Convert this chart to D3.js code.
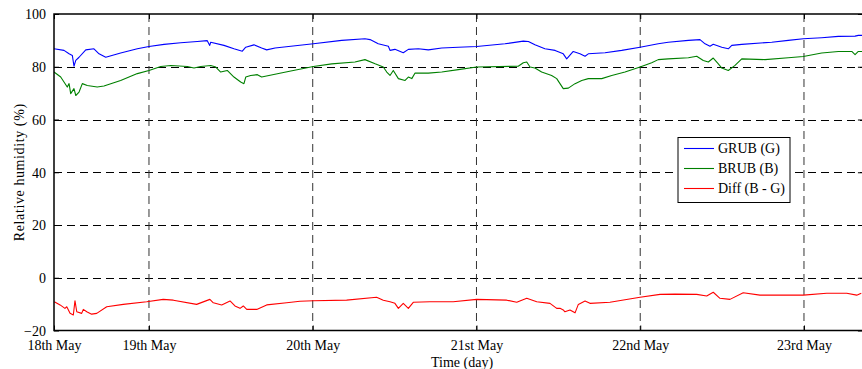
<!DOCTYPE html>
<html>
<head>
<meta charset="utf-8">
<script src="https://cdn.jsdelivr.net/npm/d3@7"></script>
<style>
  html, body { margin: 0; padding: 0; background: #fff; }
  svg { display: block; }
  text { font-family: "Liberation Serif", "Times New Roman", serif; fill: #000; }
</style>
</head>
<body>
<svg id="chart" width="862" height="369"></svg>
<script>
// ---- data (time in day-of-May, RH in %) ----
const xDomain = [18.42, 23.36];
const xTickValues = [18.42, 19, 20, 21, 22, 23];
const xTickLabels = ["18th May", "19th May", "20th May", "21st May", "22nd May", "23rd May"];
const yTickValues = [-20, 0, 20, 40, 60, 80, 100];
const seriesNames = ["GRUB (G)", "BRUB (B)", "Diff (B - G)"];
const seriesColors = ["#0000ff", "#008000", "#ff0000"];

const grubTime = [18.420,18.481,18.512,18.532,18.542,18.553,18.573,18.614,18.664,18.695,18.736,18.827,18.929,19.000,19.092,19.194,19.295,19.356,19.371,19.377,19.458,19.519,19.570,19.591,19.641,19.688,19.719,19.770,20.004,20.177,20.319,20.350,20.400,20.462,20.472,20.502,20.553,20.584,20.645,20.706,20.788,20.889,21.001,21.174,21.286,21.317,21.357,21.418,21.480,21.530,21.551,21.591,21.632,21.663,21.683,21.785,21.887,21.999,22.110,22.171,22.294,22.365,22.396,22.426,22.446,22.498,22.538,22.559,22.620,22.803,22.904,22.996,23.108,23.210,23.312,23.332,23.360];
const grubRH = [86.8,86.2,84.9,84.3,80.2,82.4,83.6,86.4,86.8,84.9,83.6,85.2,86.8,87.7,88.5,89.1,89.6,89.9,88.1,89.3,88.1,86.8,85.9,87.4,88.3,87.1,86.4,87.1,88.7,90.0,90.6,90.3,88.7,87.8,86.2,86.6,85.3,86.6,86.8,86.4,87.1,87.4,87.7,88.7,89.7,89.6,88.3,86.8,86.2,84.9,83.0,85.8,84.9,84.0,84.9,85.3,86.2,87.4,88.7,89.3,90.0,90.3,88.7,87.8,88.5,87.4,86.8,88.1,88.5,89.3,90.0,90.6,91.0,91.5,91.6,91.9,91.9];

const brubTime = [18.420,18.461,18.481,18.501,18.512,18.522,18.542,18.553,18.573,18.593,18.623,18.684,18.725,18.827,18.929,19.000,19.072,19.133,19.234,19.275,19.316,19.377,19.408,19.438,19.478,19.519,19.560,19.580,19.591,19.621,19.662,19.688,19.851,20.004,20.116,20.258,20.319,20.381,20.431,20.452,20.472,20.492,20.523,20.564,20.584,20.605,20.625,20.706,20.788,20.889,21.001,21.255,21.286,21.307,21.327,21.357,21.398,21.459,21.490,21.510,21.530,21.561,21.602,21.643,21.683,21.765,21.826,21.907,21.999,22.070,22.110,22.171,22.294,22.345,22.385,22.416,22.446,22.477,22.498,22.538,22.579,22.620,22.762,22.904,22.996,23.108,23.210,23.292,23.312,23.332,23.360];
const brubRH = [78.0,76.1,74.2,72.3,73.6,69.8,71.7,69.1,70.4,73.6,72.9,72.3,72.7,74.8,77.4,78.6,80.1,80.5,80.1,79.5,80.1,80.5,79.9,78.0,78.6,76.1,74.2,73.6,76.1,76.7,77.0,76.1,78.2,80.1,81.1,81.8,82.7,81.1,79.9,78.0,76.7,78.6,75.5,74.8,76.1,75.5,77.6,77.6,78.0,78.9,79.9,80.2,81.5,81.8,79.9,79.5,78.0,76.7,75.5,73.6,71.7,71.9,73.6,74.8,75.5,75.5,76.7,78.0,79.9,81.5,82.7,83.0,83.4,84.0,82.4,81.8,83.3,81.1,79.5,78.6,80.5,83.0,82.7,83.4,83.9,85.2,85.8,85.8,84.6,85.8,85.8];

const diffTime = [18.422,18.457,18.487,18.498,18.518,18.538,18.548,18.559,18.589,18.599,18.620,18.650,18.681,18.742,18.843,18.986,19.087,19.149,19.291,19.372,19.393,19.444,19.495,19.525,19.556,19.576,19.597,19.658,19.719,19.841,19.922,20.004,20.207,20.390,20.431,20.472,20.502,20.523,20.553,20.584,20.614,20.716,20.858,21.001,21.185,21.246,21.307,21.368,21.449,21.490,21.510,21.530,21.540,21.571,21.602,21.622,21.663,21.693,21.815,21.999,22.121,22.213,22.345,22.406,22.446,22.487,22.548,22.629,22.731,22.996,23.139,23.261,23.322,23.350];
const diffRH = [-9.1,-10.3,-11.6,-11.0,-13.5,-14.1,-8.7,-12.9,-13.5,-12.0,-12.9,-13.8,-13.5,-11.0,-10.1,-9.1,-8.2,-8.5,-10.1,-8.2,-9.5,-10.3,-8.8,-10.7,-11.6,-10.7,-12.0,-12.0,-10.3,-9.5,-8.9,-8.7,-8.5,-7.4,-8.5,-9.1,-9.7,-11.6,-9.7,-11.6,-9.3,-9.1,-9.1,-8.2,-8.5,-9.3,-7.8,-9.1,-9.7,-11.6,-11.6,-12.2,-12.9,-12.2,-13.3,-10.1,-8.8,-9.7,-9.3,-7.4,-6.3,-6.2,-6.3,-6.9,-5.5,-7.8,-8.2,-5.7,-6.6,-6.6,-5.9,-5.9,-6.6,-5.9];

// ---- layout ----
const margin = { left: 54, top: 14, bottom: 330.5 };
const pxPerDay = 163.75;
const svg = d3.select("#chart");

const x = d3.scaleLinear().domain(xDomain).range([margin.left, margin.left + (xDomain[1] - xDomain[0]) * pxPerDay]);
const y = d3.scaleLinear().domain([-20, 100]).range([margin.bottom, margin.top]);
const x0 = x.range()[0], x1 = x.range()[1];

// clip
svg.append("defs").append("clipPath").attr("id", "clip")
  .append("rect").attr("x", x0).attr("y", margin.top).attr("width", x1 - x0).attr("height", margin.bottom - margin.top);

// grid
const grid = svg.append("g").attr("stroke", "#000").attr("stroke-width", 1).attr("stroke-dasharray", "8,5");
grid.selectAll("line.h").data(yTickValues.filter(v => v > -20 && v < 100)).join("line")
  .attr("x1", x0).attr("x2", x1).attr("y1", d => Math.round(y(d)) + 0.5).attr("y2", d => Math.round(y(d)) + 0.5);
grid.selectAll("line.v").data(xTickValues.slice(1)).join("line")
  .attr("y1", margin.top).attr("y2", margin.bottom).attr("x1", d => x(d)).attr("x2", d => x(d))
  .attr("stroke", "#333");

// lines
const series = [
  { t: grubTime, v: grubRH },
  { t: brubTime, v: brubRH },
  { t: diffTime, v: diffRH }
];
const line = d3.line().x(d => x(d[0])).y(d => y(d[1]));
const plot = svg.append("g").attr("clip-path", "url(#clip)");
series.forEach((s, i) => {
  plot.append("path")
    .attr("d", line(d3.zip(s.t, s.v)))
    .attr("fill", "none").attr("stroke", seriesColors[i]).attr("stroke-width", 1.1)
    .attr("stroke-linejoin", "round");
});

// axes
const yAxis = d3.axisLeft(y).tickValues(yTickValues).tickSize(-5).tickPadding(8).tickFormat(d3.format("d"));
const yG = svg.append("g").attr("transform", `translate(${x0},0)`).call(yAxis);
const xAxis = d3.axisBottom(x).tickValues(xTickValues).tickSize(-5).tickPadding(10)
  .tickFormat((d, i) => xTickLabels[i]);
const xG = svg.append("g").attr("transform", `translate(0,${margin.bottom})`).call(xAxis);
// top / right ticks
svg.append("g").attr("transform", `translate(0,${margin.top})`)
  .call(d3.axisTop(x).tickValues(xTickValues).tickSize(-5).tickFormat(""));
svg.append("g").attr("transform", `translate(${x1},0)`)
  .call(d3.axisRight(y).tickValues(yTickValues).tickSize(-5).tickFormat(""));

svg.selectAll(".domain").remove();
svg.selectAll(".tick line").attr("stroke", "#000").attr("stroke-width", 1);
[yG, xG].forEach(g => g.selectAll("text")
  .style("font-family", "'Liberation Serif', 'Times New Roman', serif")
  .style("font-size", "14px").attr("fill", "#000"));
yG.selectAll("text").attr("dy", "0.35em");

// box
svg.append("rect").attr("x", x0).attr("y", margin.top).attr("width", x1 - x0).attr("height", margin.bottom - margin.top)
  .attr("fill", "none").attr("stroke", "#000").attr("stroke-width", 1.5);

// axis titles
svg.append("text").attr("x", (x0 + 862) / 2 + 4).attr("y", 367).attr("text-anchor", "middle")
  .style("font-size", "14px").text("Time (day)");
svg.append("text").attr("transform", `translate(24,${(margin.top + margin.bottom) / 2}) rotate(-90)`)
  .attr("text-anchor", "middle").style("font-size", "14px").style("letter-spacing", "0.6px")
  .text("Relative humidity (%)");

// legend
const lg = svg.append("g").attr("transform", "translate(678,137.5)");
lg.append("rect").attr("width", 112).attr("height", 65).attr("fill", "#fff").attr("stroke", "#000").attr("stroke-width", 1);
seriesNames.forEach((name, i) => {
  const yy = 11 + i * 20;
  lg.append("line").attr("x1", 6).attr("x2", 36).attr("y1", yy).attr("y2", yy)
    .attr("stroke", seriesColors[i]).attr("stroke-width", 1.1);
  lg.append("text").attr("x", 40).attr("y", yy).attr("dy", "0.35em")
    .style("font-size", "14px").text(name);
});
</script>
</body>
</html>
